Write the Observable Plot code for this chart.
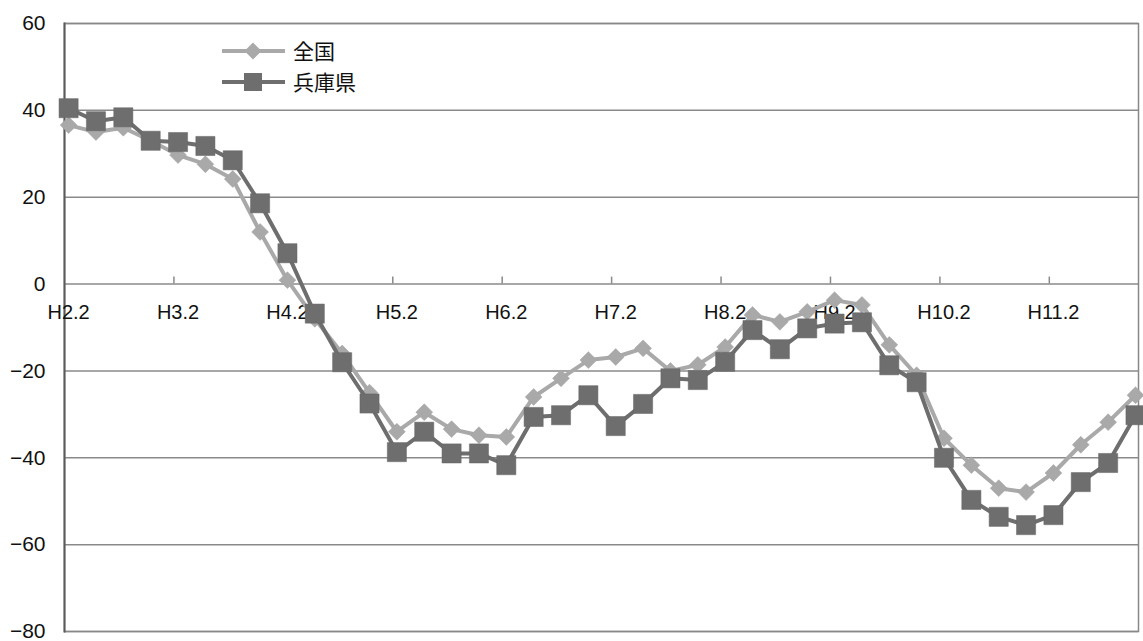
<!DOCTYPE html>
<html><head><meta charset="utf-8">
<script src="https://cdn.jsdelivr.net/npm/d3@7"></script>
<script src="https://cdn.jsdelivr.net/npm/@observablehq/plot@0.6"></script>
<style>
body{margin:0;background:#fff;}
#wrap{position:relative;width:1143px;height:641px;}
.lg{position:absolute;font-family:"Noto Sans CJK JP","Noto Sans",sans-serif;font-size:21px;color:#111;line-height:24px;}
.lgs{position:absolute;}
</style></head><body>
<div id="wrap"><div id="chart"></div>
<svg class="lgs" style="left:220px;top:39px" width="68" height="24"><line x1="2" x2="65" y1="12" y2="12" stroke="#a9a9a9" stroke-width="4"/><path d="M33,3.5L41.5,12L33,20.5L24.5,12Z" fill="#a9a9a9"/></svg>
<div class="lg" style="left:293px;top:38px">全国</div>
<svg class="lgs" style="left:220px;top:70px" width="68" height="24"><line x1="2" x2="65" y1="12" y2="12" stroke="#6e6e6e" stroke-width="4"/><rect x="24" y="3" width="18" height="18" fill="#6e6e6e"/></svg>
<div class="lg" style="left:293px;top:69px">兵庫県</div>
</div>
<script>
const quarters = ["H2.2","H2.5","H2.8","H2.11","H3.2","H3.5","H3.8","H3.11","H4.2","H4.5","H4.8","H4.11",
"H5.2","H5.5","H5.8","H5.11","H6.2","H6.5","H6.8","H6.11","H7.2","H7.5","H7.8","H7.11",
"H8.2","H8.5","H8.8","H8.11","H9.2","H9.5","H9.8","H9.11","H10.2","H10.5","H10.8","H10.11",
"H11.2","H11.5","H11.8","H11.11"];
const tickLabels = ["H2.2","H3.2","H4.2","H5.2","H6.2","H7.2","H8.2","H9.2","H10.2","H11.2"];
const national = [36.6,35,36,33,29.7,27.6,24.2,12,0.9,-8,-16,-25,-34,-29.5,-33.4,-34.8,-35.2,-26,-21.7,-17.5,-16.8,-14.8,-20,-18.6,-14.5,-7.1,-8.7,-6.4,-3.7,-4.8,-14,-21,-35.5,-41.7,-47,-47.9,-43.5,-37,-31.8,-25.6];
const hyogo = [40.5,37.5,38.4,33,32.7,31.8,28.5,18.6,7.1,-6.8,-18,-27.5,-38.7,-34,-39,-39,-41.7,-30.6,-30.2,-25.6,-32.7,-27.6,-21.7,-22.1,-17.9,-10.6,-15,-10.2,-9.1,-8.8,-18.7,-22.6,-40,-49.7,-53.6,-55.5,-53.2,-45.6,-41.2,-30.2];
const yTicks = [-80,-60,-40,-20,0,20,40,60];

const natData = quarters.map((q,i)=>({i, q, v: national[i]}));
const hyoData = quarters.map((q,i)=>({i, q, v: hyogo[i]}));
const tickData = tickLabels.map((t,k)=>({t, i: quarters.indexOf(t)}));

const chart = Plot.plot({
  width: 1143, height: 641,
  marginLeft: 64, marginRight: 5, marginTop: 23, marginBottom: 10,
  style: {fontFamily: "'Liberation Sans', Arial, sans-serif", color: "#111", background: "#fff"},
  x: {domain: [-0.15, 39.11], axis: null},
  y: {domain: [-80, 60], ticks: yTicks, axis: null},
  marks: [
    Plot.ruleY(yTicks, {stroke: "#8a8a8a", strokeWidth: 1.5}),
    Plot.frame({stroke: "#888", strokeWidth: 1.5}),
    Plot.frame({anchor: "left", stroke: "#5a5a5a", strokeWidth: 2}),
    Plot.ruleX(tickData.slice(1), {x: d => d.i - 0.15, y1: () => 0, y2: () => 0, insetTop: -7, stroke: "#8a8a8a", strokeWidth: 1.5}),
    Plot.axisY({ticks: yTicks, label: null, tickSize: 0, tickPadding: 19, fontSize: 21, fill: "#111"}),
    Plot.text(tickData, {x: "i", y: () => 0, text: "t", dy: 29, fontSize: 20, fill: "#111"}),
    Plot.line(natData, {x: "i", y: "v", stroke: "#a9a9a9", strokeWidth: 4, strokeLinejoin: "round"}),
    Plot.dot(natData, {x: "i", y: "v", symbol: "diamond2", r: 7.6, fill: "#a9a9a9", stroke: "#a3a3a3", strokeWidth: 0.5}),
    Plot.line(hyoData, {x: "i", y: "v", stroke: "#6e6e6e", strokeWidth: 4, strokeLinejoin: "round"}),
    Plot.dot(hyoData, {x: "i", y: "v", symbol: "square", r: 10.8, fill: "#6e6e6e", stroke: "#666", strokeWidth: 0.5})
  ]
});
document.getElementById("chart").appendChild(chart);
</script>
</body></html>
